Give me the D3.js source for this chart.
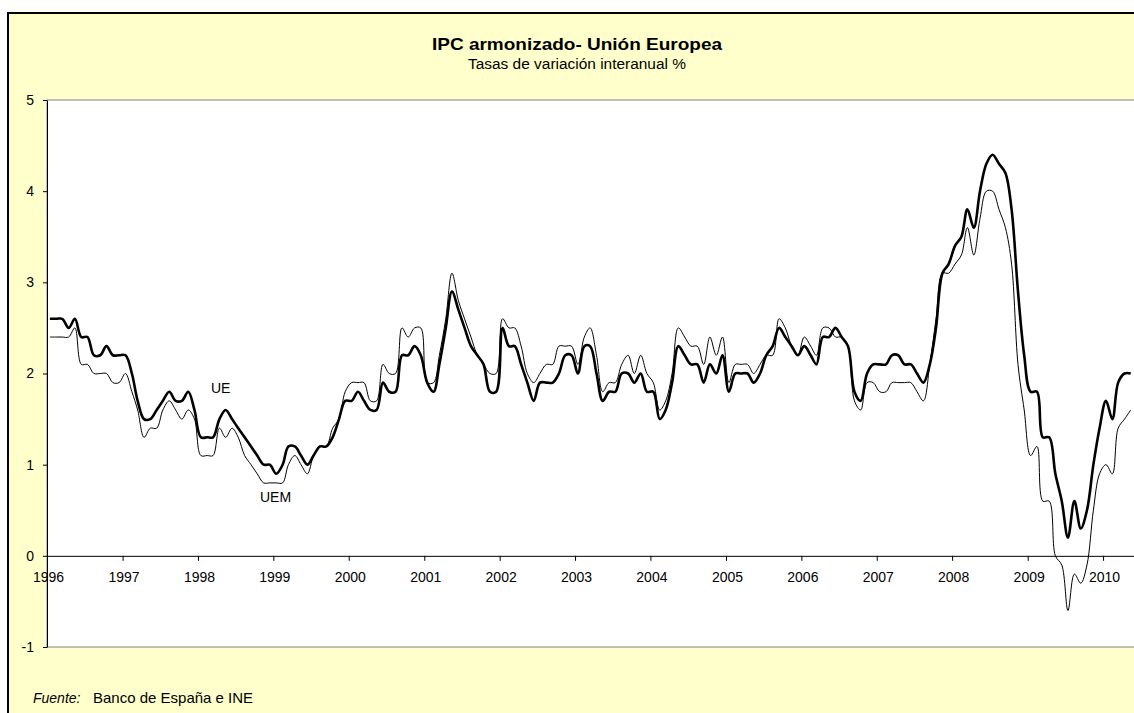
<!DOCTYPE html>
<html>
<head>
<meta charset="utf-8">
<script src="https://cdn.jsdelivr.net/npm/d3@7"></script>
<style>
  body { margin: 0; background: #fff; }
  text { font-family: "Liberation Sans", Arial, sans-serif; fill: #000; }
</style>
</head>
<body>
<div id="main"></div>
<script>
// monthly data, first value = January 1996
const firstMonth = new Date(1996, 0, 15);

// UE (thick line), annual rate %
const ue = [
  2.6, 2.6, 2.6, 2.5, 2.6, 2.4, 2.4, 2.2, 2.2, 2.3, 2.2, 2.2,
  2.2, 2.0, 1.7, 1.5, 1.5, 1.6, 1.7, 1.8, 1.7, 1.7, 1.8, 1.6,
  1.3, 1.3, 1.3, 1.5, 1.6, 1.5, 1.4, 1.3, 1.2, 1.1, 1.0, 1.0,
  0.9, 1.0, 1.2, 1.2, 1.1, 1.0, 1.1, 1.2, 1.2, 1.3, 1.5, 1.7,
  1.7, 1.8, 1.7, 1.6, 1.6, 1.9, 1.8, 1.8, 2.2, 2.2, 2.3, 2.2,
  1.9, 1.8, 2.1, 2.5, 2.9, 2.7, 2.5, 2.3, 2.2, 2.1, 1.8, 1.8,
  2.5, 2.3, 2.3, 2.1, 1.9, 1.7, 1.9, 1.9, 1.9, 2.0, 2.2, 2.2,
  2.0, 2.3, 2.3, 2.0, 1.7, 1.8, 1.8, 2.0, 2.0, 1.9, 2.0, 1.8,
  1.8, 1.5, 1.6, 1.9, 2.3, 2.2, 2.1, 2.1, 1.9, 2.1, 2.0, 2.2,
  1.8, 2.0, 2.0, 2.0, 1.9, 2.0, 2.2, 2.3, 2.5, 2.4, 2.3, 2.2,
  2.3, 2.2, 2.1, 2.4, 2.4, 2.5, 2.4, 2.3, 1.8, 1.7, 2.0, 2.1,
  2.1, 2.1, 2.2, 2.2, 2.1, 2.1, 2.0, 1.9, 2.1, 2.5, 3.1, 3.2,
  3.4, 3.5, 3.8, 3.6, 4.0, 4.3, 4.4, 4.3, 4.2, 3.8, 2.9, 2.2,
  1.8, 1.8, 1.3, 1.3, 0.9, 0.6, 0.2, 0.6, 0.3, 0.5, 1.0, 1.4,
  1.7, 1.5, 1.9, 2.0, 2.0
];

// UEM (thin line), annual rate %
const uem = [
  2.4, 2.4, 2.4, 2.4, 2.5, 2.1, 2.1, 2.0, 2.0, 2.0, 1.9, 1.9,
  2.0, 1.8, 1.6, 1.3, 1.4, 1.4, 1.6, 1.7, 1.6, 1.5, 1.6, 1.5,
  1.1, 1.1, 1.1, 1.4, 1.3, 1.4, 1.3, 1.1, 1.0, 0.9, 0.8, 0.8,
  0.8, 0.8, 1.0, 1.1, 1.0, 0.9, 1.1, 1.2, 1.2, 1.4, 1.5, 1.8,
  1.9, 1.9, 1.9, 1.7, 1.7, 2.1, 2.0, 2.0, 2.5, 2.4, 2.5, 2.5,
  1.9, 1.9, 2.2, 2.6, 3.1, 2.8, 2.6, 2.4, 2.2, 2.1, 2.0, 2.0,
  2.6, 2.5, 2.5, 2.3, 2.0, 1.9, 2.0, 2.1, 2.1, 2.3, 2.3, 2.3,
  2.1, 2.4, 2.5, 2.2, 1.8, 1.9, 1.9, 2.1, 2.2, 2.0, 2.2, 2.0,
  1.9, 1.6, 1.7, 2.0, 2.5, 2.4, 2.3, 2.3, 2.1, 2.4, 2.2, 2.4,
  1.9, 2.1, 2.1, 2.1, 2.0, 2.1, 2.2, 2.2, 2.6, 2.5, 2.3, 2.2,
  2.4, 2.3, 2.2, 2.5, 2.5, 2.4, 2.4, 2.3, 1.7, 1.6, 1.9, 1.9,
  1.8, 1.8, 1.9, 1.9, 1.9, 1.9, 1.8, 1.7, 2.1, 2.6, 3.1, 3.1,
  3.2, 3.3, 3.6, 3.3, 3.7, 4.0, 4.0, 3.8, 3.6, 3.2, 2.1, 1.6,
  1.1, 1.2, 0.6, 0.6, 0.0, -0.1, -0.6, -0.2, -0.3, -0.1, 0.5, 0.9,
  1.0, 0.9, 1.4, 1.5, 1.6
];

const yearTicks = [1996, 1997, 1998, 1999, 2000, 2001, 2002, 2003, 2004, 2005, 2006, 2007, 2008, 2009, 2010];
const valueTicks = [-1, 0, 1, 2, 3, 4, 5];

const width = 1134;
const height = 713;

const svg = d3.select("#main").append("svg").attr("width", width).attr("height", height);

// outer chart frame (runs off the right and bottom edge)
svg
  .append("rect")
  .attr("x", 8)
  .attr("y", 13)
  .attr("width", 1160)
  .attr("height", 740)
  .attr("fill", "#FFFFCC")
  .attr("stroke", "#000")
  .attr("stroke-width", 2);

const xScale = d3
  .scaleTime()
  .domain([new Date(1996, 0, 1), new Date(2011, 0, 1)])
  .range([47, 47 + 15 * 75.43]);

const yScale = d3.scaleLinear().domain([-1, 5]).range([647, 100]);

// plot area
svg
  .append("rect")
  .attr("x", 47)
  .attr("y", yScale(5))
  .attr("width", 1200)
  .attr("height", yScale(-1) - yScale(5))
  .attr("fill", "#fff")
  .attr("stroke", "#808080")
  .attr("stroke-width", 1);

// titles (the original text is set a little wide)
svg
  .append("text")
  .attr("x", 577)
  .attr("y", 50)
  .attr("text-anchor", "middle")
  .attr("textLength", 290)
  .attr("lengthAdjust", "spacingAndGlyphs")
  .style("font-size", "17px")
  .style("font-weight", "bold")
  .text("IPC armonizado- Unión Europea");

svg
  .append("text")
  .attr("x", 577)
  .attr("y", 69)
  .attr("text-anchor", "middle")
  .attr("textLength", 218)
  .attr("lengthAdjust", "spacingAndGlyphs")
  .style("font-size", "14px")
  .text("Tasas de variación interanual %");

// axes
const yAxis = d3
  .axisLeft(yScale)
  .tickValues(valueTicks)
  .tickFormat((d) => String(d))
  .tickSize(4)
  .tickSizeOuter(0)
  .tickPadding(9);
const yG = svg.append("g").attr("transform", "translate(47, 0)").call(yAxis);
yG.select(".domain").attr("stroke", "#000");
yG.selectAll("text").style("font-size", "14px").style("font-family", "Liberation Sans, Arial, sans-serif");

const xAxis = d3
  .axisBottom(xScale)
  .tickValues(yearTicks.map((y) => new Date(y, 0, 1)))
  .tickFormat(d3.timeFormat("%Y"))
  .tickSize(5)
  .tickSizeOuter(0)
  .tickPadding(11);
const xG = svg.append("g").attr("transform", `translate(0, ${yScale(0)})`).call(xAxis);
xG.select(".domain").attr("stroke", "#000");
xG.selectAll("text")
  .attr("dx", 1)
  .style("font-size", "14px")
  .style("font-family", "Liberation Sans, Arial, sans-serif");

// series
const toPoints = (values) =>
  values.map((v, i) => ({ date: d3.timeMonth.offset(firstMonth, i), value: v }));

const line = d3
  .line()
  .x((d) => xScale(d.date))
  .y((d) => yScale(d.value))
  .curve(d3.curveCatmullRom.alpha(0.5));

svg
  .append("path")
  .datum(toPoints(uem))
  .attr("d", line)
  .attr("fill", "none")
  .attr("stroke", "#000")
  .attr("stroke-width", 1);

svg
  .append("path")
  .datum(toPoints(ue))
  .attr("d", line)
  .attr("fill", "none")
  .attr("stroke", "#000")
  .attr("stroke-width", 2.6)
  .attr("stroke-linejoin", "round");

// series labels
svg.append("text").attr("x", 211).attr("y", 393).style("font-size", "14px").text("UE");
svg.append("text").attr("x", 260).attr("y", 502).style("font-size", "14px").text("UEM");

// source
const source = svg.append("text").attr("x", 33).attr("y", 703).style("font-size", "14px");
source.append("tspan").style("font-style", "italic").text("Fuente:");
source.append("tspan").attr("x", 93).style("font-size", "15px").text("Banco de España e INE");
</script>
</body>
</html>
